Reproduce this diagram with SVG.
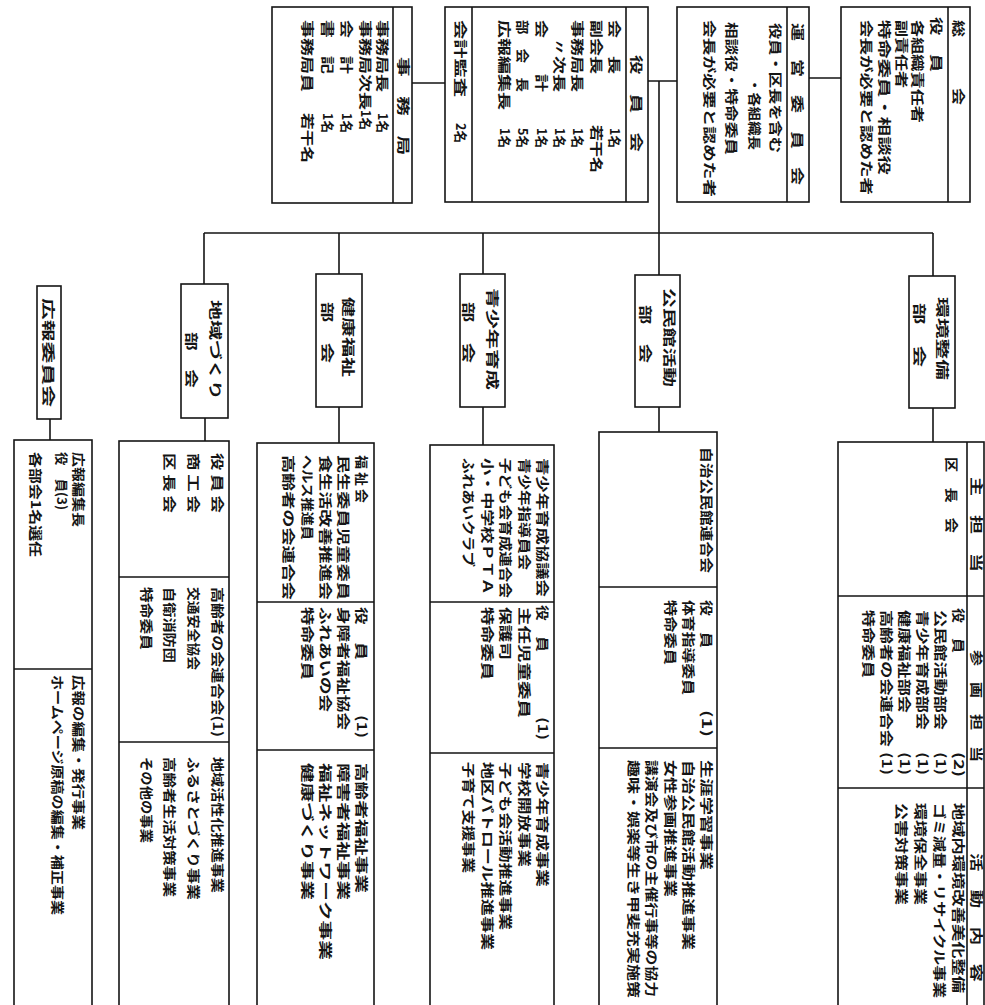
<svg xmlns="http://www.w3.org/2000/svg" width="985" height="1005" viewBox="0 0 985 1005">
<style>
.b{fill:none;stroke:#151515;stroke-width:1.6}
.c{fill:none;stroke:#151515;stroke-width:1.6}
text{font-family:"Noto Sans CJK JP","Noto Sans CJK SC",sans-serif;font-size:13px;fill:#151515;font-weight:bold}
</style>
<rect width="985" height="1005" fill="#fff"/>
<g id="connectors" class="c">
<path d="M412,83H445M648,81H677M809,78H841M659,81V233M204,233H933M204,233V284M339,233V274M483,233V274M659,233V275M933,233V276M205,418V441M339,407V443M483,407V445M659,407V432M933,408V442M50,419V440"/>
</g>
<g id="jimukyoku">
<rect class="b" x="272" y="7" width="140" height="196"/>
<path class="b" d="M393,7V203"/>
<text transform="translate(399,57) rotate(90)" textLength="98" lengthAdjust="spacingAndGlyphs">事　務　局</text>
<text transform="translate(378,20) rotate(90)" textLength="72" lengthAdjust="spacingAndGlyphs">事務局長</text>
<text transform="translate(378,113) rotate(90)" textLength="20" lengthAdjust="spacingAndGlyphs">1名</text>
<text transform="translate(361,20) rotate(90)" textLength="90" lengthAdjust="spacingAndGlyphs">事務局次長</text>
<text transform="translate(361,110) rotate(90)" textLength="20" lengthAdjust="spacingAndGlyphs">1名</text>
<text transform="translate(342,20) rotate(90)" textLength="54" lengthAdjust="spacingAndGlyphs">会　計</text>
<text transform="translate(342,113) rotate(90)" textLength="20" lengthAdjust="spacingAndGlyphs">1名</text>
<text transform="translate(323,20) rotate(90)" textLength="54" lengthAdjust="spacingAndGlyphs">書　記</text>
<text transform="translate(323,113) rotate(90)" textLength="20" lengthAdjust="spacingAndGlyphs">1名</text>
<text transform="translate(303,20) rotate(90)" textLength="72" lengthAdjust="spacingAndGlyphs">事務局員</text>
<text transform="translate(303,113) rotate(90)" textLength="50" lengthAdjust="spacingAndGlyphs">若干名</text>
</g>
<g id="yakuinkai">
<rect class="b" x="445" y="7" width="203" height="195"/>
<path class="b" d="M626,7V202M472,7V202"/>
<text transform="translate(632,55) rotate(90)" textLength="97" lengthAdjust="spacingAndGlyphs">役　員　会</text>
<text transform="translate(610,20) rotate(90)" textLength="54" lengthAdjust="spacingAndGlyphs">会　長</text>
<text transform="translate(610,128) rotate(90)" textLength="20" lengthAdjust="spacingAndGlyphs">1名</text>
<text transform="translate(592,20) rotate(90)" textLength="54" lengthAdjust="spacingAndGlyphs">副会長</text>
<text transform="translate(592,125) rotate(90)" textLength="48" lengthAdjust="spacingAndGlyphs">若干名</text>
<text transform="translate(573,20) rotate(90)" textLength="72" lengthAdjust="spacingAndGlyphs">事務局長</text>
<text transform="translate(573,128) rotate(90)" textLength="20" lengthAdjust="spacingAndGlyphs">1名</text>
<text transform="translate(555,20) rotate(90)" textLength="72" lengthAdjust="spacingAndGlyphs">　〃次長</text>
<text transform="translate(555,128) rotate(90)" textLength="20" lengthAdjust="spacingAndGlyphs">1名</text>
<text transform="translate(537,20) rotate(90)" textLength="72" lengthAdjust="spacingAndGlyphs">会　　計</text>
<text transform="translate(537,128) rotate(90)" textLength="20" lengthAdjust="spacingAndGlyphs">1名</text>
<text transform="translate(518,20) rotate(90)" textLength="72" lengthAdjust="spacingAndGlyphs">部　会　長</text>
<text transform="translate(518,128) rotate(90)" textLength="20" lengthAdjust="spacingAndGlyphs">5名</text>
<text transform="translate(500,20) rotate(90)" textLength="90" lengthAdjust="spacingAndGlyphs">広報編集長</text>
<text transform="translate(500,128) rotate(90)" textLength="20" lengthAdjust="spacingAndGlyphs">1名</text>
<text transform="translate(456,20) rotate(90)" textLength="77" lengthAdjust="spacingAndGlyphs">会計監査</text>
<text transform="translate(456,123) rotate(90)" textLength="20" lengthAdjust="spacingAndGlyphs">2名</text>
</g>
<g id="uneiiinkai">
<rect class="b" x="677" y="7" width="132" height="195"/>
<path class="b" d="M787,7V202"/>
<text transform="translate(793,23) rotate(90)" textLength="162" lengthAdjust="spacingAndGlyphs">運　営　委　員　会</text>
<text transform="translate(771,23) rotate(90)" textLength="130" lengthAdjust="spacingAndGlyphs">役員・区長を含む</text>
<text transform="translate(750,78) rotate(90)" textLength="72" lengthAdjust="spacingAndGlyphs">・各組織長</text>
<text transform="translate(727,22) rotate(90)" textLength="133" lengthAdjust="spacingAndGlyphs">相談役・特命委員</text>
<text transform="translate(705,20) rotate(90)" textLength="177" lengthAdjust="spacingAndGlyphs">会長が必要と認めた者</text>
</g>
<g id="soukai">
<rect class="b" x="841" y="7" width="129" height="195"/>
<path class="b" d="M948,7V202"/>
<text transform="translate(954,20) rotate(90)" textLength="85" lengthAdjust="spacingAndGlyphs">総　　　会</text>
<text transform="translate(932,17) rotate(90)" textLength="55" lengthAdjust="spacingAndGlyphs">役　員</text>
<text transform="translate(913,20) rotate(90)" textLength="103" lengthAdjust="spacingAndGlyphs">各組織責任者</text>
<text transform="translate(897,20) rotate(90)" textLength="68" lengthAdjust="spacingAndGlyphs">副責任者</text>
<text transform="translate(880,20) rotate(90)" textLength="155" lengthAdjust="spacingAndGlyphs">特命委員・相談役</text>
<text transform="translate(862,20) rotate(90)" textLength="175" lengthAdjust="spacingAndGlyphs">会長が必要と認めた者</text>
</g>
<g id="kankyo-bukai">
<rect class="b" x="909" y="276" width="46" height="132"/>
<text transform="translate(938,297) rotate(90)" textLength="83" lengthAdjust="spacingAndGlyphs">環境整備</text>
<text transform="translate(915,303) rotate(90)" textLength="64" lengthAdjust="spacingAndGlyphs">部　会</text>
</g>
<g id="kominkan-bukai">
<rect class="b" x="635" y="275" width="45" height="132"/>
<text transform="translate(665,288) rotate(90)" textLength="99" lengthAdjust="spacingAndGlyphs">公民館活動</text>
<text transform="translate(641,305) rotate(90)" textLength="58" lengthAdjust="spacingAndGlyphs">部　会</text>
</g>
<g id="seishonen-bukai">
<rect class="b" x="460" y="274" width="45" height="133"/>
<text transform="translate(488,288) rotate(90)" textLength="102" lengthAdjust="spacingAndGlyphs">青少年育成</text>
<text transform="translate(464,302) rotate(90)" textLength="61" lengthAdjust="spacingAndGlyphs">部　会</text>
</g>
<g id="kenko-bukai">
<rect class="b" x="316" y="274" width="46" height="133"/>
<text transform="translate(344,297) rotate(90)" textLength="80" lengthAdjust="spacingAndGlyphs">健康福祉</text>
<text transform="translate(323,302) rotate(90)" textLength="61" lengthAdjust="spacingAndGlyphs">部　会</text>
</g>
<g id="chiiki-bukai">
<rect class="b" x="181" y="284" width="47" height="134"/>
<text transform="translate(211,300) rotate(90)" textLength="100" lengthAdjust="spacingAndGlyphs">地域づくり</text>
<text transform="translate(187,332) rotate(90)" textLength="56" lengthAdjust="spacingAndGlyphs">部　会</text>
</g>
<g id="koho-iinkai">
<rect class="b" x="37" y="286" width="24" height="133"/>
<text transform="translate(44,298) rotate(90)" textLength="109" lengthAdjust="spacingAndGlyphs">広報委員会</text>
</g>
<g id="koho-table">
<rect class="b" x="14" y="440" width="78" height="580"/>
<path class="b" d="M14,669H92"/>
<text transform="translate(74,452) rotate(90)" textLength="75" lengthAdjust="spacingAndGlyphs">広報編集長</text>
<text transform="translate(57,452) rotate(90)" textLength="58" lengthAdjust="spacingAndGlyphs">役　員(3)</text>
<text transform="translate(31,452) rotate(90)" textLength="105" lengthAdjust="spacingAndGlyphs">各部会1名選任</text>
<text transform="translate(74,675) rotate(90)" textLength="155" lengthAdjust="spacingAndGlyphs">広報の編集・発行事業</text>
<text transform="translate(53,675) rotate(90)" textLength="240" lengthAdjust="spacingAndGlyphs">ホームページ原稿の編集・補正事業</text>
</g>
<g id="chiiki-table">
<rect class="b" x="119" y="441" width="110" height="580"/>
<path class="b" d="M119,577H229M119,742H229"/>
<text transform="translate(213,453) rotate(90)" textLength="60" lengthAdjust="spacingAndGlyphs">役 員 会</text>
<text transform="translate(189,453) rotate(90)" textLength="60" lengthAdjust="spacingAndGlyphs">商 工 会</text>
<text transform="translate(165,453) rotate(90)" textLength="60" lengthAdjust="spacingAndGlyphs">区 長 会</text>
<text transform="translate(213,587) rotate(90)" textLength="150" lengthAdjust="spacingAndGlyphs">高齢者の会連合会(1)</text>
<text transform="translate(189,587) rotate(90)" textLength="83" lengthAdjust="spacingAndGlyphs">交通安全協会</text>
<text transform="translate(165,587) rotate(90)" textLength="76" lengthAdjust="spacingAndGlyphs">自衛消防団</text>
<text transform="translate(142,587) rotate(90)" textLength="63" lengthAdjust="spacingAndGlyphs">特命委員</text>
<text transform="translate(213,757) rotate(90)" textLength="136" lengthAdjust="spacingAndGlyphs">地域活性化推進事業</text>
<text transform="translate(189,757) rotate(90)" textLength="143" lengthAdjust="spacingAndGlyphs">ふるさとづくり事業</text>
<text transform="translate(165,757) rotate(90)" textLength="140" lengthAdjust="spacingAndGlyphs">高齢者生活対策事業</text>
<text transform="translate(142,757) rotate(90)" textLength="86" lengthAdjust="spacingAndGlyphs">その他の事業</text>
</g>
<g id="kenko-table">
<rect class="b" x="257" y="443" width="117" height="580"/>
<path class="b" d="M257,602H374M257,750H374"/>
<text transform="translate(357,455) rotate(90)" textLength="48" lengthAdjust="spacingAndGlyphs">福 祉 会</text>
<text transform="translate(339,455) rotate(90)" textLength="145" lengthAdjust="spacingAndGlyphs">民生委員児童委員</text>
<text transform="translate(321,455) rotate(90)" textLength="145" lengthAdjust="spacingAndGlyphs">食生活改善推進会</text>
<text transform="translate(303,455) rotate(90)" textLength="85" lengthAdjust="spacingAndGlyphs">ヘルス推進員</text>
<text transform="translate(284,455) rotate(90)" textLength="145" lengthAdjust="spacingAndGlyphs">高齢者の会連合会</text>
<text transform="translate(357,607) rotate(90)" textLength="53" lengthAdjust="spacingAndGlyphs">役　員</text>
<text transform="translate(357,715) rotate(90)" textLength="23" lengthAdjust="spacingAndGlyphs">(1)</text>
<text transform="translate(339,607) rotate(90)" textLength="123" lengthAdjust="spacingAndGlyphs">身障者福祉協会</text>
<text transform="translate(321,607) rotate(90)" textLength="105" lengthAdjust="spacingAndGlyphs">ふれあいの会</text>
<text transform="translate(303,607) rotate(90)" textLength="73" lengthAdjust="spacingAndGlyphs">特命委員</text>
<text transform="translate(357,763) rotate(90)" textLength="130" lengthAdjust="spacingAndGlyphs">高齢者福祉事業</text>
<text transform="translate(339,763) rotate(90)" textLength="137" lengthAdjust="spacingAndGlyphs">障害者福祉事業</text>
<text transform="translate(321,763) rotate(90)" textLength="197" lengthAdjust="spacingAndGlyphs">福祉ネットワーク事業</text>
<text transform="translate(303,763) rotate(90)" textLength="137" lengthAdjust="spacingAndGlyphs">健康づくり事業</text>
</g>
<g id="seishonen-table">
<rect class="b" x="430" y="445" width="124" height="580"/>
<path class="b" d="M430,602H554M430,753H554"/>
<text transform="translate(538,458) rotate(90)" textLength="139" lengthAdjust="spacingAndGlyphs">青少年育成協議会</text>
<text transform="translate(520,458) rotate(90)" textLength="112" lengthAdjust="spacingAndGlyphs">青少年指導員会</text>
<text transform="translate(501,458) rotate(90)" textLength="140" lengthAdjust="spacingAndGlyphs">子ども会育成連合会</text>
<text transform="translate(483,458) rotate(90)" textLength="137" lengthAdjust="spacingAndGlyphs">小・中学校ＰＴＡ</text>
<text transform="translate(464,458) rotate(90)" textLength="109" lengthAdjust="spacingAndGlyphs">ふれあいクラブ</text>
<text transform="translate(538,605) rotate(90)" textLength="47" lengthAdjust="spacingAndGlyphs">役　員</text>
<text transform="translate(538,717) rotate(90)" textLength="23" lengthAdjust="spacingAndGlyphs">(1)</text>
<text transform="translate(520,607) rotate(90)" textLength="111" lengthAdjust="spacingAndGlyphs">主任児童委員</text>
<text transform="translate(501,607) rotate(90)" textLength="53" lengthAdjust="spacingAndGlyphs">保護司</text>
<text transform="translate(483,607) rotate(90)" textLength="73" lengthAdjust="spacingAndGlyphs">特命委員</text>
<text transform="translate(538,762) rotate(90)" textLength="125" lengthAdjust="spacingAndGlyphs">青少年育成事業</text>
<text transform="translate(520,762) rotate(90)" textLength="105" lengthAdjust="spacingAndGlyphs">学校開放事業</text>
<text transform="translate(501,762) rotate(90)" textLength="168" lengthAdjust="spacingAndGlyphs">子ども会活動推進事業</text>
<text transform="translate(483,762) rotate(90)" textLength="188" lengthAdjust="spacingAndGlyphs">地区パトロール推進事業</text>
<text transform="translate(464,762) rotate(90)" textLength="111" lengthAdjust="spacingAndGlyphs">子育て支援事業</text>
</g>
<g id="kominkan-table">
<rect class="b" x="599" y="432" width="118" height="590"/>
<path class="b" d="M599,587H717M599,748H717"/>
<text transform="translate(702,447) rotate(90)" textLength="126" lengthAdjust="spacingAndGlyphs">自治公民館連合会</text>
<text transform="translate(702,600) rotate(90)" textLength="48" lengthAdjust="spacingAndGlyphs">役　員</text>
<text transform="translate(702,710) rotate(90)" textLength="27" lengthAdjust="spacingAndGlyphs">(1)</text>
<text transform="translate(684,600) rotate(90)" textLength="95" lengthAdjust="spacingAndGlyphs">体育指導委員</text>
<text transform="translate(666,600) rotate(90)" textLength="65" lengthAdjust="spacingAndGlyphs">特命委員</text>
<text transform="translate(702,760) rotate(90)" textLength="110" lengthAdjust="spacingAndGlyphs">生涯学習事業</text>
<text transform="translate(684,760) rotate(90)" textLength="190" lengthAdjust="spacingAndGlyphs">自治公民館活動推進事業</text>
<text transform="translate(666,760) rotate(90)" textLength="137" lengthAdjust="spacingAndGlyphs">女性参画推進事業</text>
<text transform="translate(647,760) rotate(90)" textLength="237" lengthAdjust="spacingAndGlyphs">講演会及び市の主催行事等の協力</text>
<text transform="translate(629,760) rotate(90)" textLength="238" lengthAdjust="spacingAndGlyphs">趣味・娯楽等生き甲斐充実施策</text>
</g>
<g id="kankyo-table">
<rect class="b" x="838" y="442" width="146" height="580"/>
<path class="b" d="M838,596H984M838,788H984M967,442V1005"/>
<text transform="translate(972,477) rotate(90)" textLength="95" lengthAdjust="spacingAndGlyphs">主　担　当</text>
<text transform="translate(972,650) rotate(90)" textLength="112" lengthAdjust="spacingAndGlyphs">参　画　担　当</text>
<text transform="translate(972,853) rotate(90)" textLength="129" lengthAdjust="spacingAndGlyphs">活　動　内　容</text>
<text transform="translate(947,457) rotate(90)" textLength="76" lengthAdjust="spacingAndGlyphs">区　長　会</text>
<text transform="translate(954,608) rotate(90)" textLength="45" lengthAdjust="spacingAndGlyphs">役　員</text>
<text transform="translate(954,752) rotate(90)" textLength="25" lengthAdjust="spacingAndGlyphs">(2)</text>
<text transform="translate(936,610) rotate(90)" textLength="120" lengthAdjust="spacingAndGlyphs">公民館活動部会</text>
<text transform="translate(936,752) rotate(90)" textLength="23" lengthAdjust="spacingAndGlyphs">(1)</text>
<text transform="translate(918,610) rotate(90)" textLength="120" lengthAdjust="spacingAndGlyphs">青少年育成部会</text>
<text transform="translate(918,752) rotate(90)" textLength="23" lengthAdjust="spacingAndGlyphs">(1)</text>
<text transform="translate(900,610) rotate(90)" textLength="103" lengthAdjust="spacingAndGlyphs">健康福祉部会</text>
<text transform="translate(900,752) rotate(90)" textLength="23" lengthAdjust="spacingAndGlyphs">(1)</text>
<text transform="translate(882,610) rotate(90)" textLength="137" lengthAdjust="spacingAndGlyphs">高齢者の会連合会</text>
<text transform="translate(882,752) rotate(90)" textLength="23" lengthAdjust="spacingAndGlyphs">(1)</text>
<text transform="translate(864,610) rotate(90)" textLength="68" lengthAdjust="spacingAndGlyphs">特命委員</text>
<text transform="translate(954,803) rotate(90)" textLength="190" lengthAdjust="spacingAndGlyphs">地域内環境改善美化整備</text>
<text transform="translate(935,803) rotate(90)" textLength="195" lengthAdjust="spacingAndGlyphs">ゴミ減量・リサイクル事業</text>
<text transform="translate(916,803) rotate(90)" textLength="102" lengthAdjust="spacingAndGlyphs">環境保全事業</text>
<text transform="translate(897,803) rotate(90)" textLength="102" lengthAdjust="spacingAndGlyphs">公害対策事業</text>
</g>
</svg>
